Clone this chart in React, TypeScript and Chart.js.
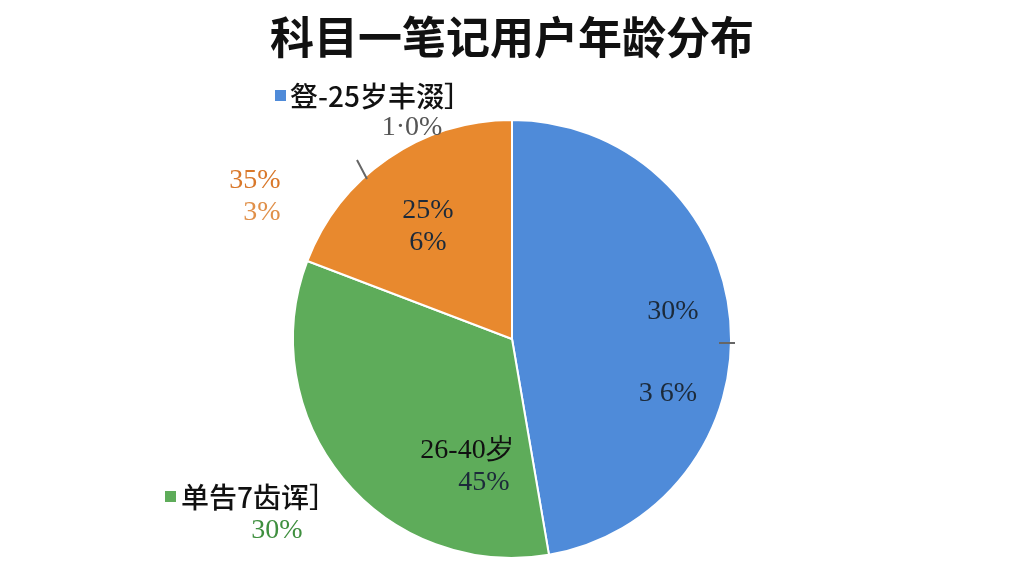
import React, { useEffect, useRef } from "react";
import { Chart, registerables } from "chart.js";

Chart.register(...registerables);

const title = "科目一笔记用户年龄分布";
const categories = ["豋-25岁丰涰］", "26-40岁", "单告7齿诨］"];
const values = [47.3, 33.5, 19.2];
const colors = ["#4f8bd9", "#5eac5a", "#e8892e"];

const SERIF = '"Liberation Serif", "DejaVu Serif", serif';
const SANS = '"Noto Sans CJK SC", "Noto Sans", sans-serif';

type Lbl = { text: string; dx: number; dy: number; color: string; font: string; align?: CanvasTextAlign };

const labelsPlugin = {
  id: "customLabels",
  afterDraw(chart: any) {
    const ctx: CanvasRenderingContext2D = chart.ctx;
    const arc = chart.getDatasetMeta(0).data[0];
    const cx = arc.x;
    const cy = arc.y;
    ctx.save();
    // title
    ctx.fillStyle = "#111";
    ctx.font = `bold 44px ${SANS}`;
    ctx.textAlign = "center";
    ctx.textBaseline = "middle";
    ctx.fillText(title, chart.width / 2, 37);

    // leader lines
    ctx.strokeStyle = "#666";
    ctx.lineWidth = 2;
    ctx.beginPath();
    ctx.moveTo(cx - 155, cy - 179);
    ctx.lineTo(cx - 145, cy - 160);
    ctx.moveTo(cx + 207, cy + 4);
    ctx.lineTo(cx + 223, cy + 4);
    ctx.stroke();

    // legend squares
    ctx.fillStyle = colors[0];
    ctx.fillRect(cx - 237, cy - 249, 11, 11);
    ctx.fillStyle = colors[1];
    ctx.fillRect(cx - 347, cy + 152, 11, 11);

    const dark = "#1c2a3a";
    const items: Lbl[] = [
      { text: categories[0], dx: -222, dy: -243, color: "#111", font: `500 28px ${SANS}`, align: "left" },
      { text: "1·0%", dx: -100, dy: -211, color: "#555", font: `28px ${SERIF}` },
      { text: "35%", dx: -257, dy: -158, color: "#d9782a", font: `28px ${SERIF}` },
      { text: "3%", dx: -250, dy: -126, color: "#e0904a", font: `28px ${SERIF}` },
      { text: "25%", dx: -84, dy: -128, color: dark, font: `28px ${SERIF}` },
      { text: "6%", dx: -84, dy: -96, color: dark, font: `28px ${SERIF}` },
      { text: "30%", dx: 161, dy: -27, color: dark, font: `28px ${SERIF}` },
      { text: "3 6%", dx: 156, dy: 55, color: dark, font: `28px ${SERIF}` },
      { text: categories[1], dx: -45, dy: 112, color: "#111", font: `28px ${SERIF}` },
      { text: "45%", dx: -28, dy: 144, color: dark, font: `28px ${SERIF}` },
      { text: categories[2], dx: -331, dy: 158, color: "#111", font: `500 28px ${SANS}`, align: "left" },
      { text: "30%", dx: -235, dy: 192, color: "#3f8f3f", font: `28px ${SERIF}` },
    ];
    for (const it of items) {
      ctx.fillStyle = it.color;
      ctx.font = it.font;
      ctx.textAlign = it.align || "center";
      ctx.textBaseline = "middle";
      ctx.fillText(it.text, cx + it.dx, cy + it.dy);
    }
    ctx.restore();
  },
};

export default function App() {
  const ref = useRef<HTMLCanvasElement>(null);
  useEffect(() => {
    if (!ref.current) return;
    const chart = new Chart(ref.current, {
      type: "pie",
      data: {
        labels: categories,
        datasets: [
          {
            data: values,
            backgroundColor: colors,
            borderColor: "#ffffff",
            borderWidth: 2,
          },
        ],
      },
      options: {
        responsive: false,
        animation: false,
        layout: { padding: { top: 119, bottom: 17, left: 0, right: 0 } },
        plugins: {
          legend: { display: false },
          title: { display: false },
          tooltip: { enabled: false },
        },
      },
      plugins: [labelsPlugin],
    });
    return () => chart.destroy();
  }, []);
  return (
    <div style={{ position: "absolute", left: 0, top: 0, width: 1024, height: 576, background: "#fff" }}>
      <canvas ref={ref} width={1024} height={576} style={{ width: 1024, height: 576 }} />
    </div>
  );
}
